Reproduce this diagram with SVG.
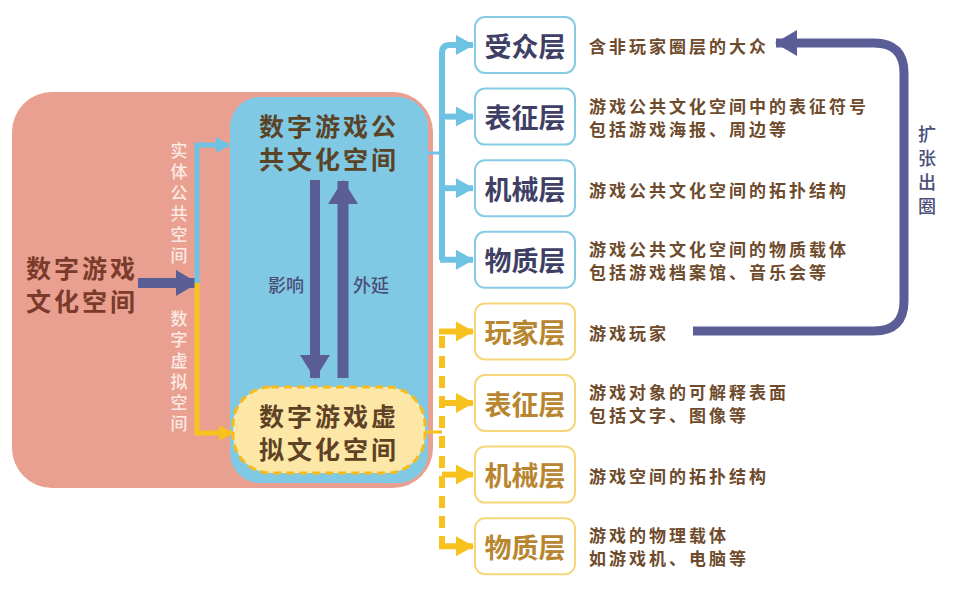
<svg xmlns="http://www.w3.org/2000/svg" width="960" height="589" viewBox="0 0 960 589">
<defs>
<style>
text{font-family:"Noto Sans CJK SC","Noto Sans",sans-serif;dominant-baseline:central;}
.big{font-size:25px;font-weight:700;text-anchor:middle;letter-spacing:3px;}
.ttl{font-size:27px;font-weight:700;text-anchor:middle;}
.desc{font-size:17px;font-weight:700;fill:#6E4B2C;letter-spacing:3px;}
.vlab{font-size:17px;font-weight:500;fill:#FCE9E3;writing-mode:vertical-rl;letter-spacing:4px;}
.vlab2{font-size:18px;font-weight:500;fill:#4B4E78;writing-mode:vertical-rl;letter-spacing:6px;}
.plab{font-size:18px;font-weight:500;fill:#4B4E78;text-anchor:middle;}
.bbox{fill:#FFFFFF;stroke:#86CBE3;stroke-width:2;}
.ybox{fill:#FFFFFF;stroke:#F6D67A;stroke-width:2;}
.bline{fill:none;stroke:#6EC3E4;stroke-width:6;}
.yline{fill:none;stroke:#F8C21E;stroke-width:6;}
.pline{fill:none;stroke:#5B5E96;}
</style>
<marker id="ab" viewBox="0 0 18 20" markerWidth="18" markerHeight="20" refX="17" refY="10" orient="auto" markerUnits="userSpaceOnUse"><path d="M0,0 L18,10 L0,20 z" fill="#6EC3E4"/></marker>
<marker id="ay" viewBox="0 0 18 20" markerWidth="18" markerHeight="20" refX="17" refY="10" orient="auto" markerUnits="userSpaceOnUse"><path d="M0,0 L18,10 L0,20 z" fill="#F8C21E"/></marker>
<marker id="abs" viewBox="0 0 14 16" markerWidth="14" markerHeight="16" refX="13" refY="8" orient="auto" markerUnits="userSpaceOnUse"><path d="M0,0 L14,8 L0,16 z" fill="#6EC3E4"/></marker>
<marker id="ays" viewBox="0 0 14 16" markerWidth="14" markerHeight="16" refX="13" refY="8" orient="auto" markerUnits="userSpaceOnUse"><path d="M0,0 L14,8 L0,16 z" fill="#F8C21E"/></marker>
<marker id="ap" viewBox="0 0 22 26" markerWidth="22" markerHeight="26" refX="21" refY="13" orient="auto" markerUnits="userSpaceOnUse"><path d="M0,0 L22,13 L0,26 z" fill="#5B5E96"/></marker>
<marker id="apv" viewBox="0 0 24 30" markerWidth="24" markerHeight="30" refX="23" refY="15" orient="auto" markerUnits="userSpaceOnUse"><path d="M0,0 L24,15 L0,30 z" fill="#5B5E96"/></marker>
</defs>
<rect width="960" height="589" fill="#FFFFFF"/>

<g id="culture-space">
<rect x="12" y="92" width="421" height="396" rx="40" fill="#E9A091"/>
<text class="big" x="82" y="267" fill="#7B3B2A">数字游戏</text>
<text class="big" x="82" y="300" fill="#7B3B2A">文化空间</text>
</g>

<g id="public-space">
<rect x="230" y="97" width="198" height="386" rx="30" fill="#80C9E4"/>
<text class="big" x="329" y="125" fill="#5A4326">数字游戏公</text>
<text class="big" x="329" y="158" fill="#5A4326">共文化空间</text>
</g>

<g id="virtual-space">
<rect x="233" y="387" width="192" height="86" rx="38" fill="#FDE7A6" stroke="#F5BC1C" stroke-width="3" stroke-dasharray="8 5"/>
<text class="big" x="329" y="415" fill="#5E4225">数字游戏虚</text>
<text class="big" x="329" y="448" fill="#5E4225">拟文化空间</text>
</g>

<g id="connectors">
<line class="pline" x1="138" y1="283" x2="197" y2="283" stroke-width="10" marker-end="url(#ap)"/>
<path d="M197,283 V145 H229" fill="none" stroke="#6EC3E4" stroke-width="5" marker-end="url(#abs)"/>
<path d="M197,283 V433 H232" fill="none" stroke="#F8C21E" stroke-width="5" marker-end="url(#ays)"/>
<line class="pline" x1="315" y1="180" x2="315" y2="378" stroke-width="10" marker-end="url(#apv)"/>
<line class="pline" x1="343" y1="378" x2="343" y2="181" stroke-width="11" marker-end="url(#apv)"/>
<line x1="428" y1="153" x2="442" y2="153" stroke="#6EC3E4" stroke-width="3"/>
<path class="bline" d="M442,260 V53 Q442,45 450,45 H473" marker-end="url(#ab)"/>
<line class="bline" x1="442" y1="116.6" x2="473" y2="116.6" marker-end="url(#ab)"/>
<line class="bline" x1="442" y1="188.2" x2="473" y2="188.2" marker-end="url(#ab)"/>
<line class="bline" x1="440" y1="259.8" x2="473" y2="259.8" marker-end="url(#ab)"/>
<line x1="425" y1="432" x2="442" y2="432" stroke="#F8C21E" stroke-width="3"/>
<line class="yline" x1="442" y1="336" x2="442" y2="546" stroke-width="7" stroke-dasharray="12 8"/>
<line class="yline" x1="439" y1="331.4" x2="473" y2="331.4" marker-end="url(#ay)"/>
<line class="yline" x1="442" y1="403" x2="473" y2="403" marker-end="url(#ay)"/>
<line class="yline" x1="442" y1="474.6" x2="473" y2="474.6" marker-end="url(#ay)"/>
<line class="yline" x1="439" y1="546.2" x2="473" y2="546.2" marker-end="url(#ay)"/>
<path class="pline" d="M693,331 H874 Q904,331 904,301 V73 Q904,43 874,43 H776" stroke-width="9" marker-end="url(#ap)"/>
</g>

<g id="labels">
<text class="vlab" x="179" y="142">实体公共空间</text>
<text class="vlab" x="179" y="310">数字虚拟空间</text>
<text class="plab" x="286" y="284">影响</text>
<text class="plab" x="371" y="284">外延</text>
<text class="vlab2" x="927" y="125">扩张出圈</text>
</g>

<g id="audience-layer">
<rect class="bbox" x="475" y="17" width="100" height="56" rx="10"/>
<text class="ttl" x="525" y="45" fill="#3F3F66">受众层</text>
<text class="desc" x="589" y="45">含非玩家圈层的大众</text>
</g>
<g id="public-representation-layer">
<rect class="bbox" x="475" y="88.6" width="100" height="56" rx="10"/>
<text class="ttl" x="525" y="116.6" fill="#3F3F66">表征层</text>
<text class="desc" x="589" y="105.5">游戏公共文化空间中的表征符号</text>
<text class="desc" x="589" y="128.5">包括游戏海报、周边等</text>
</g>
<g id="public-mechanical-layer">
<rect class="bbox" x="475" y="160.2" width="100" height="56" rx="10"/>
<text class="ttl" x="525" y="188.2" fill="#3F3F66">机械层</text>
<text class="desc" x="589" y="189">游戏公共文化空间的拓扑结构</text>
</g>
<g id="public-material-layer">
<rect class="bbox" x="475" y="231.8" width="100" height="56" rx="10"/>
<text class="ttl" x="525" y="259.8" fill="#3F3F66">物质层</text>
<text class="desc" x="589" y="248.5">游戏公共文化空间的物质载体</text>
<text class="desc" x="589" y="271.5">包括游戏档案馆、音乐会等</text>
</g>
<g id="player-layer">
<rect class="ybox" x="475" y="303.4" width="100" height="56" rx="10"/>
<text class="ttl" x="525" y="331.4" fill="#B8862F">玩家层</text>
<text class="desc" x="589" y="332">游戏玩家</text>
</g>
<g id="virtual-representation-layer">
<rect class="ybox" x="475" y="375" width="100" height="56" rx="10"/>
<text class="ttl" x="525" y="403" fill="#B8862F">表征层</text>
<text class="desc" x="589" y="391.5">游戏对象的可解释表面</text>
<text class="desc" x="589" y="414.5">包括文字、图像等</text>
</g>
<g id="virtual-mechanical-layer">
<rect class="ybox" x="475" y="446.6" width="100" height="56" rx="10"/>
<text class="ttl" x="525" y="474.6" fill="#B8862F">机械层</text>
<text class="desc" x="589" y="475">游戏空间的拓扑结构</text>
</g>
<g id="virtual-material-layer">
<rect class="ybox" x="475" y="518.2" width="100" height="56" rx="10"/>
<text class="ttl" x="525" y="546.2" fill="#B8862F">物质层</text>
<text class="desc" x="589" y="534.5">游戏的物理载体</text>
<text class="desc" x="589" y="557.5">如游戏机、电脑等</text>
</g>
</svg>
